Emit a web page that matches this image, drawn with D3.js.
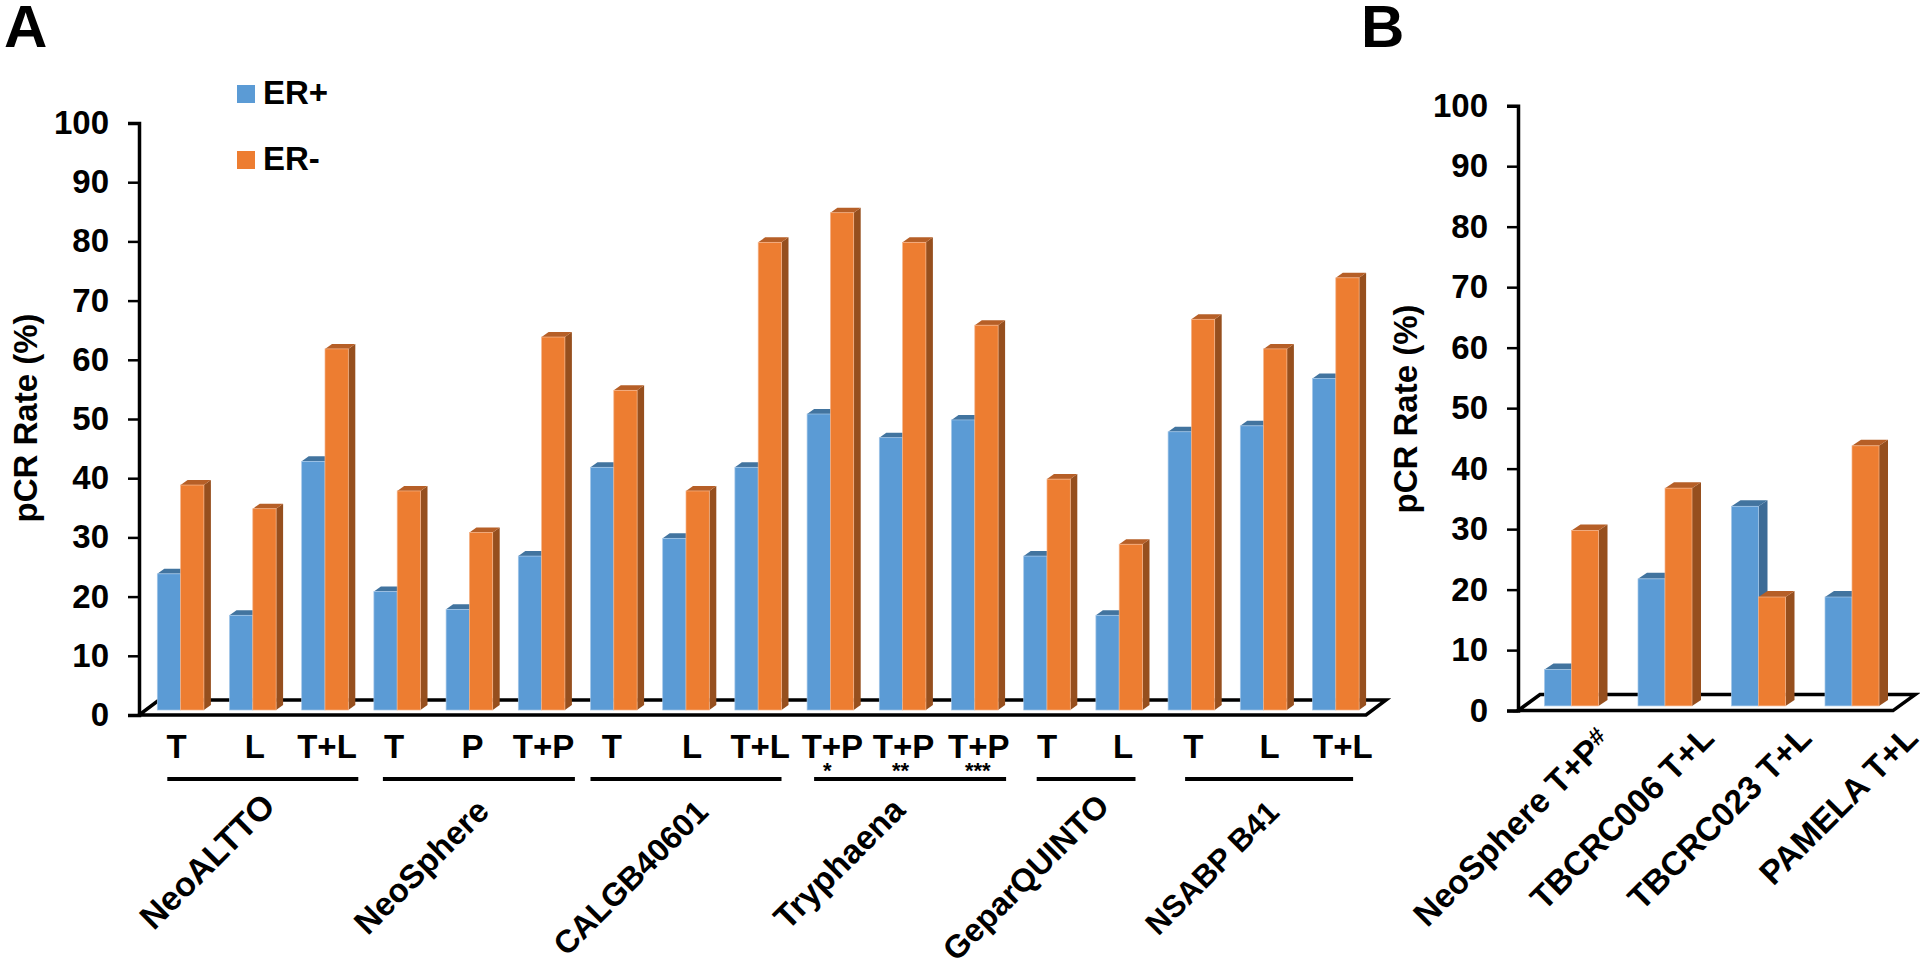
<!DOCTYPE html>
<html>
<head>
<meta charset="utf-8">
<style>
	html, body { margin: 0; background: #fff; }
	text { font-family: "Liberation Sans", Arial, sans-serif; font-weight: bold; fill: #000; }
</style>
<script src="https://cdn.jsdelivr.net/npm/d3@7"></script>
</head>
<body>
<div id="graph"></div>
<script>
// panel A
var armsA = ['T', 'L', 'T+L', 'T', 'P', 'T+P', 'T', 'L', 'T+L', 'T+P', 'T+P', 'T+P', 'T', 'L', 'T', 'L', 'T+L']
var erPosA = [23, 16, 42, 20, 17, 26, 41, 29, 41, 50, 46, 49, 26, 16, 47, 48, 56]
var erNegA = [38, 34, 61, 37, 30, 63, 54, 37, 79, 84, 79, 65, 39, 28, 66, 61, 73]
var trialsA = ['NeoALTTO', 'NeoSphere', 'CALGB40601', 'Tryphaena', 'GeparQUINTO', 'NSABP B41']
var trialSpans = [[0, 2], [3, 5], [6, 8], [9, 11], [12, 13], [14, 16]]
var footnotes = ['*', '**', '***']

// panel B
var labelsB = ['NeoSphere T+P', 'TBCRC006 T+L', 'TBCRC023 T+L', 'PAMELA T+L']
var erPosB = [6, 21, 33, 18]
var erNegB = [29, 36, 18, 43]

var series = ['ER+', 'ER-']
var yTicks = [0, 10, 20, 30, 40, 50, 60, 70, 80, 90, 100]

var w = 1920
var h = 966
var fontSize = 33

var colors = {
	'ER+': { front: '#5b9bd5', edge: '#a3c6e8', side: '#3d6b96', top: '#42749f' },
	'ER-': { front: '#ed7d31', edge: '#f5b48a', side: '#964f1e', top: '#b65f27' }
}

var svg = d3.select('#graph')
	.append('svg')
	.attr('width', w)
	.attr('height', h)
	.style('display', 'block')

function drawPanel(p) {
	var n = p.pos.length
	var g = svg.append('g')

	var y = d3.scaleLinear().domain([0, 100]).range([p.y0, p.yTop])
	var x = d3.scaleBand().domain(d3.range(n)).range([p.x0, p.x0 + n * p.step])
	var xSeries = d3.scaleBand().domain(series).range([0, p.barW * 2])

	// floor of the 3d box
	g.append('path')
		.attr('d', d3.line()([
			[p.axisX, p.y0],
			[p.floorEnd, p.y0],
			[p.floorEnd + p.floorDx, p.y0 - p.floorDy],
			[p.axisX + p.floorDx, p.y0 - p.floorDy]
		]) + 'Z')
		.attr('fill', '#fff')
		.attr('stroke', '#000')
		.attr('stroke-width', 3.5)

	var base = y(0) - p.lift

	var bars = g.selectAll('.group')
		.data(d3.range(n))
		.enter()
		.append('g')
		.attr('class', 'group')
		.attr('transform', (i) => 'translate(' + x(i) + ',0)')

	series.forEach(function(s, k) {
		var values = k == 0 ? p.pos : p.neg
		var barTop = (i) => y(values[i]) - p.lift
		var left = xSeries(s)
		var right = left + p.barW

		// right side of the box
		bars.append('path')
			.attr('fill', colors[s].side)
			.attr('d', (i) => d3.line()([
				[right, base],
				[right + p.depthX, base - p.depthY],
				[right + p.depthX, barTop(i) - p.depthY],
				[right, barTop(i)]
			]) + 'Z')

		// top of the box
		bars.append('path')
			.attr('fill', colors[s].top)
			.attr('d', (i) => d3.line()([
				[left, barTop(i)],
				[left + p.depthX, barTop(i) - p.depthY],
				[right + p.depthX, barTop(i) - p.depthY],
				[right, barTop(i)]
			]) + 'Z')

		bars.append('rect')
			.attr('x', left)
			.attr('y', barTop)
			.attr('width', p.barW)
			.attr('height', (i) => base - barTop(i))
			.attr('fill', colors[s].front)
			.attr('stroke', colors[s].edge)
			.attr('stroke-width', 0.7)
	})

	var yAxis = d3.axisLeft(y)
		.tickValues(yTicks)
		.tickSize(11)
		.tickPadding(19)

	var axis = g.append('g')
		.attr('transform', 'translate(' + p.axisX + ',0)')
		.call(yAxis)

	axis.select('.domain').attr('stroke-width', 3.5).attr('stroke', '#000')
	axis.selectAll('.tick line').attr('stroke-width', 2.5).attr('stroke', '#000')
	axis.selectAll('.tick text')
		.style('font-size', fontSize + 'px')
		.attr('font-family', null)

	g.append('text')
		.attr('transform', 'translate(' + p.titleX + ',' + p.titleY + ') rotate(-90)')
		.attr('text-anchor', 'middle')
		.style('font-size', fontSize + 'px')
		.text('pCR Rate (%)')

	return x
}

var xA = drawPanel({
	pos: erPosA, neg: erNegA,
	x0: 157.3, step: 72.2, barW: 23.3,
	y0: 715, yTop: 123, lift: 5,
	depthX: 7, depthY: 5,
	axisX: 139, floorEnd: 1366, floorDx: 20, floorDy: 15,
	titleX: 37, titleY: 418
})

var xB = drawPanel({
	pos: erPosB, neg: erNegB,
	x0: 1544.5, step: 93.5, barW: 27,
	y0: 710.6, yTop: 105.7, lift: 4.7,
	depthX: 9, depthY: 6,
	axisX: 1518, floorEnd: 1893, floorDx: 22, floorDy: 16,
	titleX: 1417, titleY: 409
})

// arm labels under panel A, placed by hand in the original so each has a nudge
var armNudge = [-4, 2, 2, -3, 3, 2, -2, 6, 2, 2, 1, 4, 0, 4, 2, 6, 7]
var armCenter = 23.3

svg.append('g').selectAll('text')
	.data(armsA)
	.enter()
	.append('text')
	.attr('x', (d, i) => xA(i) + armCenter + armNudge[i])
	.attr('y', 758)
	.attr('text-anchor', 'middle')
	.style('font-size', fontSize + 'px')
	.text((d) => d)

// stars under the Tryphaena arms
var starNudge = [-3, -2, 3]

svg.append('g').selectAll('text')
	.data(footnotes)
	.enter()
	.append('text')
	.attr('x', (d, i) => xA(9 + i) + armCenter + starNudge[i])
	.attr('y', 778)
	.attr('text-anchor', 'middle')
	.style('font-size', '22px')
	.text((d) => d)

// lines under each trial
var spanNudge = [[10, 10], [9, 10], [0, 0], [7, 8], [13, -7], [17, -6]]

svg.append('g').selectAll('line')
	.data(trialSpans)
	.enter()
	.append('line')
	.attr('x1', (d, i) => xA(d[0]) + spanNudge[i][0])
	.attr('x2', (d, i) => xA(d[1]) + 46.6 + spanNudge[i][1])
	.attr('y1', 779)
	.attr('y2', 779)
	.attr('stroke', '#000')
	.attr('stroke-width', 4)

// trial names, slanted
var trialEnds = [[277, 808], [491, 813], [710, 814], [907, 812], [1111, 808], [1281, 814]]
var trialSizes = [34, 33, 32, 33.7, 32.4, 31]

svg.append('g').selectAll('text')
	.data(trialsA)
	.enter()
	.append('text')
	.attr('transform', (d, i) => 'translate(' + trialEnds[i][0] + ',' + trialEnds[i][1] + ') rotate(-45)')
	.attr('text-anchor', 'end')
	.style('font-size', (d, i) => trialSizes[i] + 'px')
	.text((d) => d)

// panel B names
var labelEndY = [743, 740, 740, 740]
var labelEndX = [68, 78, 82, 95]

var namesB = svg.append('g').selectAll('text')
	.data(labelsB)
	.enter()
	.append('text')
	.attr('transform', (d, i) => 'translate(' + (xB(i) + labelEndX[i]) + ',' + labelEndY[i] + ') rotate(-45)')
	.attr('text-anchor', 'end')
	.style('font-size', '33.5px')
	.text((d) => d)

namesB.filter((d, i) => i == 0)
	.append('tspan')
	.style('font-size', '24px')
	.attr('dy', -8)
	.text('#')

// legend
var legend = svg.append('g').selectAll('g')
	.data(series)
	.enter()
	.append('g')
	.attr('transform', (d, i) => 'translate(237,' + (85 + i * 66) + ')')

legend.append('rect')
	.attr('width', 18)
	.attr('height', 18)
	.attr('fill', (d) => colors[d].front)

legend.append('text')
	.attr('x', 26)
	.attr('y', 19)
	.style('font-size', fontSize + 'px')
	.text((d) => d)

// panel letters
svg.append('text').attr('x', 4).attr('y', 47).style('font-size', '60px').text('A')
svg.append('text').attr('x', 1361).attr('y', 47).style('font-size', '60px').text('B')
</script>
</body>
</html>
